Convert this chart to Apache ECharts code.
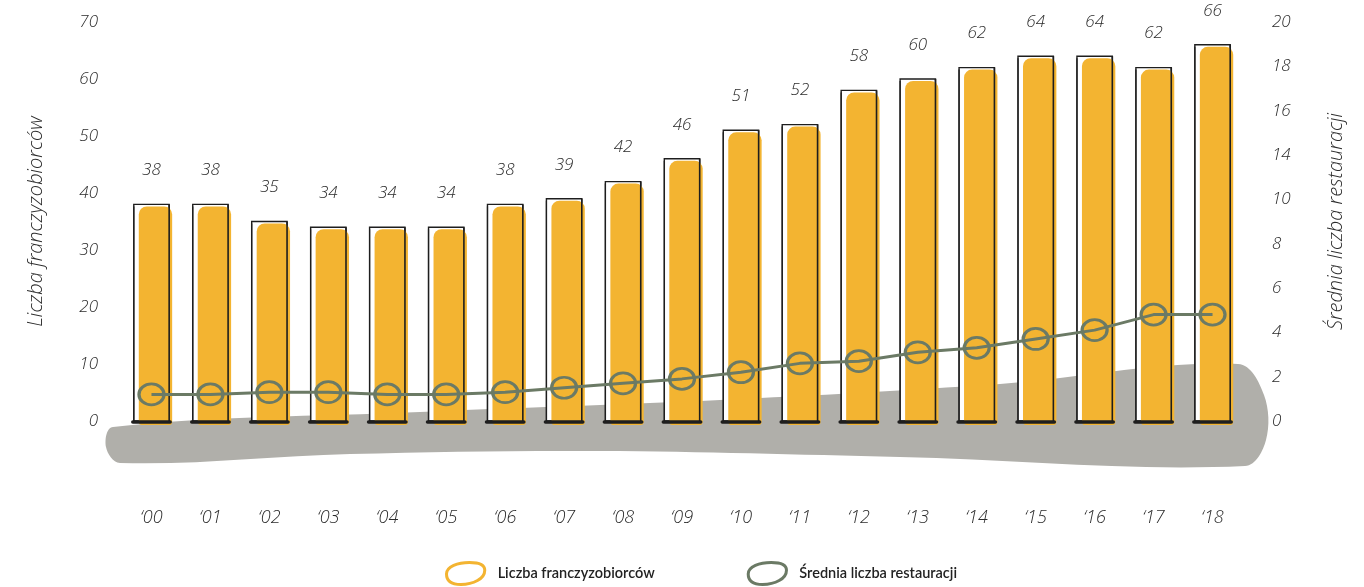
<!DOCTYPE html>
<html><head><meta charset="utf-8">
<script src="https://cdn.jsdelivr.net/npm/echarts@6/dist/echarts.min.js"></script>
<style>html,body{margin:0;padding:0;background:#fff}#c{width:1364px;height:587px}</style>
</head><body><div id="c"></div>
<script>
const categories = ["‘00","‘01","‘02","‘03","‘04","‘05","‘06","‘07","‘08","‘09","‘10","‘11","‘12","‘13","‘14","‘15","‘16","‘17","‘18"];
const franchisees = [38,38,35,34,34,34,38,39,42,46,51,52,58,60,62,64,64,62,66];
const avgRestaurants = [1.2,1.2,1.3,1.3,1.2,1.2,1.3,1.5,1.7,1.9,2.2,2.6,2.7,3.1,3.3,3.7,4.1,4.8,4.8];
const leftTicks = ["0","10","20","30","40","50","60","70"];
const rightTicks = ["0","2","4","6","8","10","14","16","18","20"];

const YEL = '#f3b431', GRN = '#6b7a65', INK = '#1e1e1e', GREY = '#b0afaa';
const hand = {fontFamily:'Open Sans', fontStyle:'italic', fontWeight:300, color:'#2b2b2b', fontSize:17};
const ICON = 'path://M2,13 C2,5 14,1 26,1 C36,1 42,4 42,9 C42,18 30,24 17,24 C7,24 2,20 2,13 Z';

const chart = echarts.init(document.getElementById('c'), null, {renderer:'canvas'});
chart.setOption({
  animation:false,
  backgroundColor:'#fff',
  graphic:[{
    type:'polygon', z:0, silent:true,
    shape:{smooth:0.35, points:[[113,427],[420,412],[720,400],[1000,384],[1238,364],[1264,395],[1266,440],[1245,466],[900,457],[600,451],[350,454],[120,463],[106,447]]},
    style:{fill:GREY}
  }],
  legend:{
    top:556, left:440, itemGap:92, itemWidth:42, itemHeight:22,
    lineStyle:{opacity:0, width:0},
    textStyle:{fontFamily:'Lato', fontWeight:600, fontSize:14.5, color:'#222', padding:[0,0,0,6]},
    data:[
      {name:'Liczba franczyzobiorców', icon:ICON, itemStyle:{color:'transparent', borderColor:YEL, borderWidth:3}},
      {name:'Średnia liczba restauracji', icon:ICON, itemStyle:{color:'transparent', borderColor:GRN, borderWidth:3}}
    ]
  },
  grid:{left:122, right:122, top:22, bottom:166},
  xAxis:{
    type:'category', data:categories, boundaryGap:true,
    axisLine:{show:false}, axisTick:{show:false},
    axisLabel:Object.assign({margin:88}, hand, {fontSize:18})
  },
  yAxis:[{
    type:'value', min:0, max:70, interval:10,
    name:'Liczba franczyzobiorców', nameLocation:'middle', nameGap:76, nameRotate:90,
    nameTextStyle:Object.assign({}, hand, {fontSize:20}),
    axisLine:{show:false}, axisTick:{show:false}, splitLine:{show:false},
    axisLabel:Object.assign({margin:24, formatter:v=>leftTicks[v/10]}, hand)
  },{
    type:'value', min:0, max:18, interval:2,
    name:'Średnia liczba restauracji', nameLocation:'middle', nameGap:84, nameRotate:90,
    nameTextStyle:Object.assign({}, hand, {fontSize:20}),
    axisLine:{show:false}, axisTick:{show:false}, splitLine:{show:false},
    axisLabel:Object.assign({margin:30, formatter:v=>rightTicks[v/2]}, hand)
  }],
  series:[{
    name:'Liczba franczyzobiorców', type:'custom', z:3, yAxisIndex:0,
    data:franchisees.map((v,i)=>[i,v]),
    renderItem:function(params, api){
      const i = api.value(0), v = api.value(1);
      const top = api.coord([i, v]), base = api.coord([i, 0]);
      const w = api.size([1,0])[0]*0.6;
      const x0 = top[0]-w/2, h = base[1]-top[1];
      return {type:'group', children:[
        {type:'rect', shape:{x:x0, y:top[1], width:w, height:h}, style:{fill:'#fff', stroke:INK, lineWidth:1.4}},
        {type:'rect', shape:{x:x0+5, y:top[1]+2, width:w-2, height:h+2, r:[8,8,3,3]}, style:{fill:YEL}},
        {type:'line', shape:{x1:x0+w, y1:top[1], x2:x0+w, y2:base[1]}, style:{stroke:INK, lineWidth:1.6}},
        {type:'line', shape:{x1:x0, y1:top[1]+2, x2:x0, y2:base[1]}, style:{stroke:INK, lineWidth:1.2}},
        {type:'line', shape:{x1:x0-1, y1:base[1]+1, x2:x0+w+1, y2:base[1]+1}, style:{stroke:INK, lineWidth:3.5, lineCap:'round'}},
        {type:'text', style:{text:String(v), x:top[0], y:top[1]-34, align:'center', verticalAlign:'middle',
          fill:'#2b2b2b', fontFamily:'Open Sans', fontStyle:'italic', fontWeight:300, fontSize:17}}
      ]};
    }
  },{
    name:'Średnia liczba restauracji', type:'line', yAxisIndex:1, z:5,
    data:avgRestaurants,
    symbol:'circle', symbolSize:[25,21],
    lineStyle:{color:GRN, width:3},
    itemStyle:{color:'transparent', borderColor:GRN, borderWidth:3}
  }]
});
</script></body></html>
